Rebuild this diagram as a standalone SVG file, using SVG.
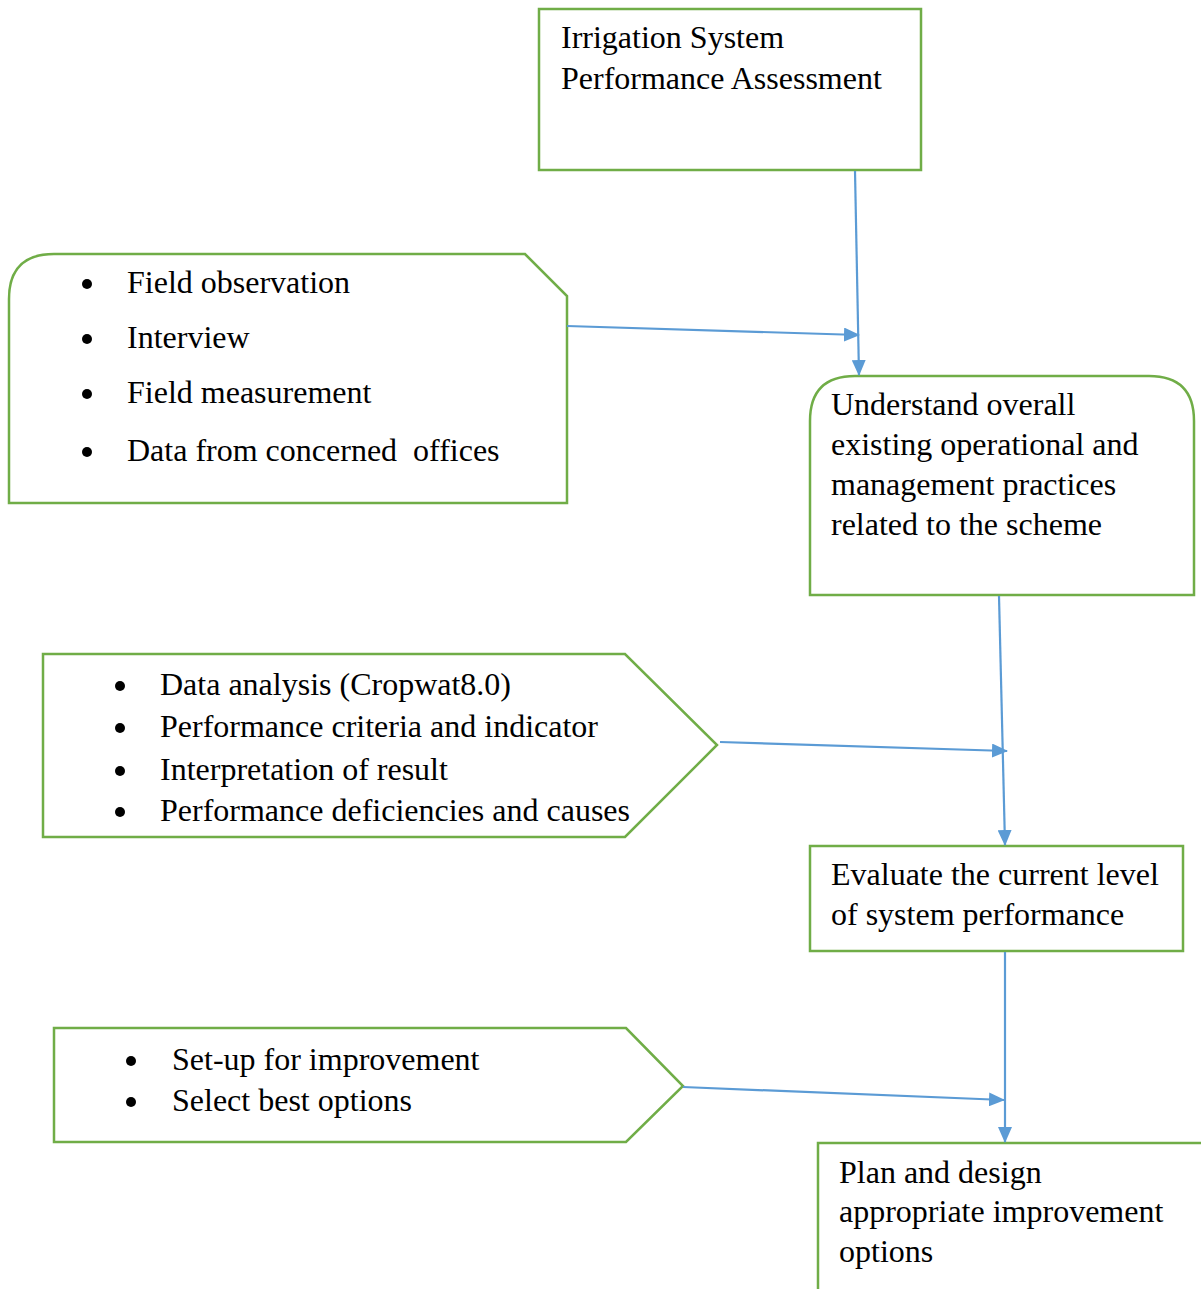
<svg xmlns="http://www.w3.org/2000/svg" width="1201" height="1289" viewBox="0 0 1201 1289">
<style>
.node{fill:#ffffff;stroke:#70AD47;stroke-width:2.5}
.t{font-family:"Liberation Serif","Times New Roman",serif;font-size:32px;fill:#000}
.conn{stroke:#5B9BD5;stroke-width:2.2;fill:none}
</style>
<defs>
<marker id="arr" markerUnits="userSpaceOnUse" markerWidth="16" markerHeight="14" viewBox="0 0 16 14" refX="15" refY="7" orient="auto">
<path d="M0,0 L16,7 L0,14 Z" fill="#5B9BD5"/>
</marker>
</defs>
<rect width="1201" height="1289" fill="#ffffff"/>
<g id="n1">
<rect class="node" x="539" y="9" width="382" height="161"/>
<text class="t" x="561" y="48">Irrigation System</text>
<text class="t" x="561" y="89">Performance Assessment</text>
</g>
<g id="nA">
<path class="node" d="M9,503 L9,299 Q9,254 54,254 L525,254 L567,296 L567,503 Z"/>
<circle cx="87" cy="284" r="5"/>
<circle cx="87" cy="339" r="5"/>
<circle cx="87" cy="394" r="5"/>
<circle cx="87" cy="452" r="5"/>
<text class="t" x="127" y="293">Field observation</text>
<text class="t" x="127" y="348">Interview</text>
<text class="t" x="127" y="403">Field measurement</text>
<text class="t" x="127" y="461" xml:space="preserve">Data from concerned  offices</text>
</g>
<g id="n2">
<path class="node" d="M810,595 L810,421 Q810,376 855,376 L1149,376 Q1194,376 1194,421 L1194,595 Z"/>
<text class="t" x="831" y="415">Understand overall</text>
<text class="t" x="831" y="455">existing operational and</text>
<text class="t" x="831" y="495">management practices</text>
<text class="t" x="831" y="535">related to the scheme</text>
</g>
<g id="nB">
<path class="node" d="M43,654 L625,654 L717,745 L625,837 L43,837 Z"/>
<circle cx="120" cy="686" r="5"/>
<circle cx="120" cy="728" r="5"/>
<circle cx="120" cy="771" r="5"/>
<circle cx="120" cy="812" r="5"/>
<text class="t" x="160" y="695">Data analysis (Cropwat8.0)</text>
<text class="t" x="160" y="737">Performance criteria and indicator</text>
<text class="t" x="160" y="780">Interpretation of result</text>
<text class="t" x="160" y="821">Performance deficiencies and causes</text>
</g>
<g id="n3">
<rect class="node" x="810" y="846" width="373" height="105"/>
<text class="t" x="831" y="885">Evaluate the current level</text>
<text class="t" x="831" y="925">of system performance</text>
</g>
<g id="nC">
<path class="node" d="M54,1028 L626,1028 L683,1086 L626,1142 L54,1142 Z"/>
<circle cx="131" cy="1061" r="5"/>
<circle cx="131" cy="1102" r="5"/>
<text class="t" x="172" y="1070">Set-up for improvement</text>
<text class="t" x="172" y="1111">Select best options</text>
</g>
<g id="n4">
<rect class="node" x="818" y="1143" width="400" height="170"/>
<text class="t" x="839" y="1183">Plan and design</text>
<text class="t" x="839" y="1222">appropriate improvement</text>
<text class="t" x="839" y="1262">options</text>
</g>
<g id="connectors">
<line class="conn" x1="855" y1="171" x2="859" y2="375" marker-end="url(#arr)"/>
<line class="conn" x1="567" y1="326" x2="859" y2="335" marker-end="url(#arr)"/>
<line class="conn" x1="999" y1="596" x2="1005" y2="845" marker-end="url(#arr)"/>
<line class="conn" x1="720" y1="742" x2="1007" y2="751" marker-end="url(#arr)"/>
<line class="conn" x1="1005" y1="952" x2="1005" y2="1142" marker-end="url(#arr)"/>
<line class="conn" x1="683" y1="1087" x2="1004" y2="1100" marker-end="url(#arr)"/>
</g>
</svg>
